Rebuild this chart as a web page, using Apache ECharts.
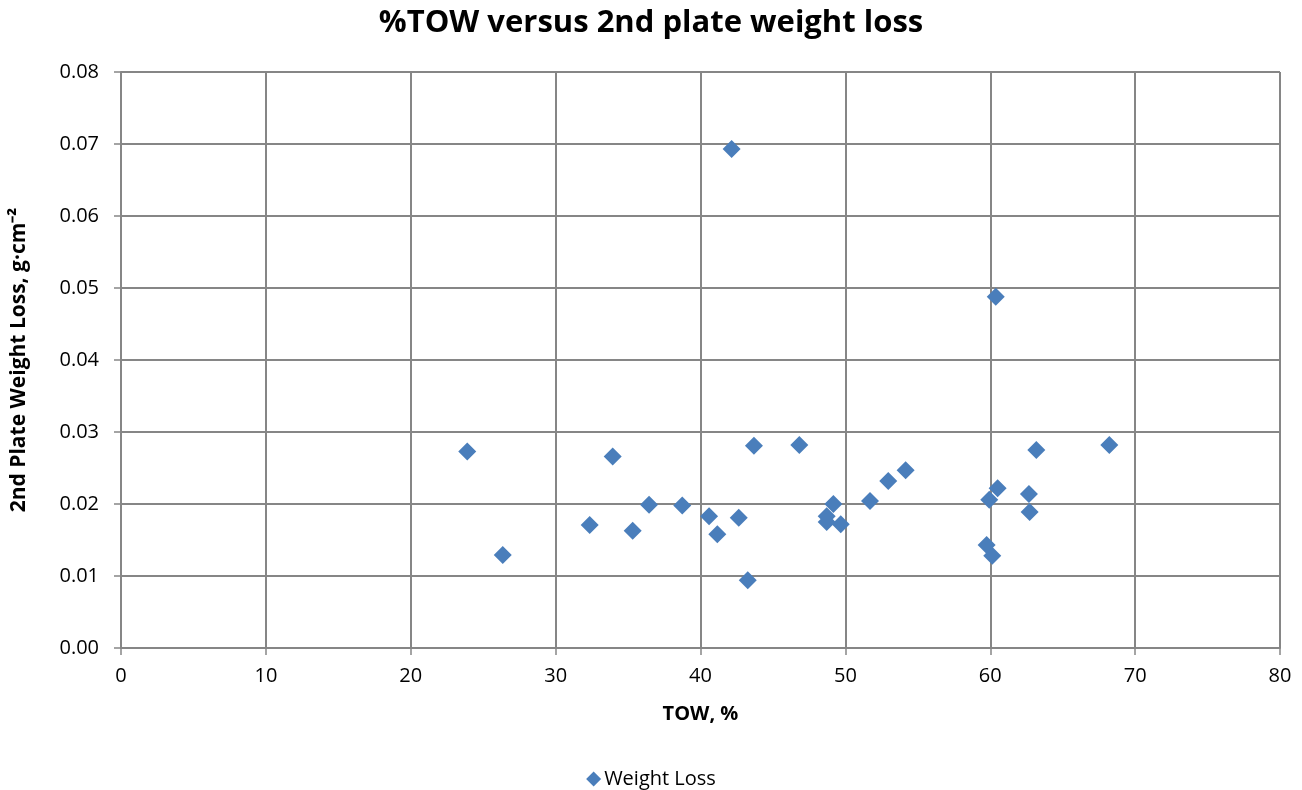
<!DOCTYPE html>
<html><head><meta charset="utf-8">
<script src="https://cdn.jsdelivr.net/npm/echarts@6/dist/echarts.min.js"></script>
<style>html,body{margin:0;padding:0;background:#fff}#c{width:1302px;height:790px}</style>
</head><body><div id="c"></div>
<script>
const titleText = '%TOW versus 2nd plate weight loss';
const xName = 'TOW, %';
const yName = '2nd Plate Weight Loss, g\u00b7cm\u207b\u00b2';
const seriesName = 'Weight Loss';
const towValues = [23.90, 26.35, 32.35, 33.94, 35.32, 36.45, 38.74, 40.59, 41.16, 42.15, 42.64, 43.26, 43.69, 46.82, 48.71, 48.71, 49.17, 49.68, 51.70, 52.96, 54.16, 59.75, 59.93, 60.14, 60.38, 60.51, 62.67, 62.72, 63.18, 68.22];
const lossValues = [0.0273, 0.0129, 0.0171, 0.0266, 0.0163, 0.0199, 0.0198, 0.0183, 0.0158, 0.0693, 0.0181, 0.0094, 0.0281, 0.0282, 0.0183, 0.0175, 0.0200, 0.0172, 0.0204, 0.0232, 0.0247, 0.0143, 0.0206, 0.0128, 0.0488, 0.0222, 0.0214, 0.0189, 0.0275, 0.0282];

const font = 'Open Sans, Liberation Sans, sans-serif';
const chart = echarts.init(document.getElementById('c'));
chart.setOption({
  animation: false,
  backgroundColor: '#fff',
  title: { text: titleText, left: 'center', top: 3,
    textStyle: { fontFamily: font, fontSize: 31, fontWeight: 'bold', color: '#000' } },
  grid: { left: 121, right: 22, top: 72, bottom: 142 },
  legend: { top: 767, left: 'center', padding: 2, itemWidth: 15, itemHeight: 15, itemGap: 4,
    data: [{ name: seriesName, icon: 'diamond' }],
    textStyle: { fontFamily: font, fontSize: 20, color: '#000', padding: [0, 0, 0, -2] } },
  xAxis: { type: 'value', min: 0, max: 80, interval: 10,
    name: xName, nameLocation: 'middle', nameGap: 56,
    nameTextStyle: { fontFamily: font, fontSize: 20, fontWeight: 'bold', color: '#000' },
    axisLine: { show: true, onZero: false, lineStyle: { color: '#868686', width: 2 } },
    axisTick: { show: true, length: 7, lineStyle: { color: '#868686', width: 1.5 } },
    axisLabel: { fontFamily: font, fontSize: 20, color: '#000', margin: 18 },
    splitLine: { show: true, lineStyle: { color: '#868686', width: 2 } } },
  yAxis: { type: 'value', min: 0, max: 0.08, interval: 0.01,
    name: yName, nameLocation: 'middle', nameGap: 91, nameRotate: 90,
    nameTextStyle: { fontFamily: font, fontSize: 21, fontWeight: 'bold', color: '#000' },
    axisLine: { show: true, lineStyle: { color: '#868686', width: 2 } },
    axisTick: { show: true, length: 7, lineStyle: { color: '#868686', width: 1.5 } },
    axisLabel: { fontFamily: font, fontSize: 20, color: '#000', margin: 22,
      formatter: v => v.toFixed(2) },
    splitLine: { show: true, lineStyle: { color: '#868686', width: 2 } } },
  series: [{
    name: seriesName, type: 'scatter', symbol: 'diamond', symbolSize: 18,
    itemStyle: { color: '#4A7EBB', opacity: 1 },
    data: towValues.map((x, i) => [x, lossValues[i]])
  }]
});
</script></body></html>
